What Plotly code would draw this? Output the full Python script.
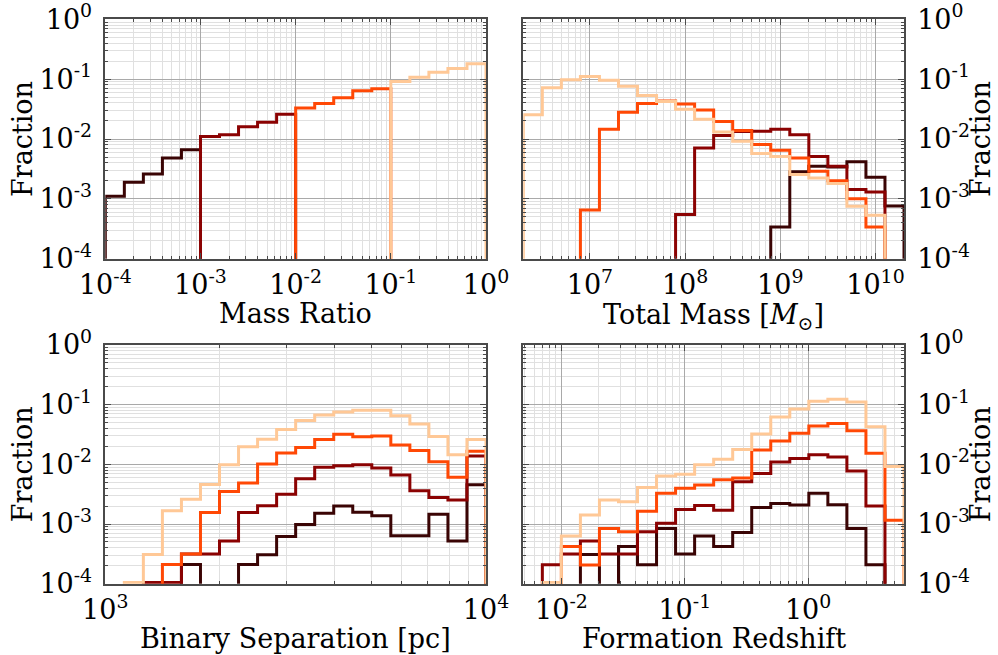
import numpy as np
import plotly.graph_objects as go

# ---------------- DATA ----------------
# Bin edges (log10) for each panel
q_edges = np.logspace(-4, 0, 21)                 # Mass ratio
m_edges = np.logspace(6.3, 10.3, 21)             # Total mass [Msun]
a_edges = np.logspace(3, 4, 21)                  # Binary separation [pc]
z_edges = np.logspace(np.log10(0.0049), np.log10(6.0), 21)  # Formation redshift

series_names = ["1e-4 < q < 1e-3", "1e-3 < q < 1e-2", "1e-2 < q < 1e-1", "1e-1 < q < 1"]

# Mass ratio histograms
q_s1 = [1.1e-3, 1.9e-3, 2.6e-3, 4.8e-3, 6.6e-3, 0, 0, 0, 0, 0, 0, 0, 0, 0, 0, 0, 0, 0, 0, 0]
q_s2 = [0, 0, 0, 0, 0, 0.011, 0.0118, 0.016, 0.019, 0.026, 0, 0, 0, 0, 0, 0, 0, 0, 0, 0]
q_s3 = [0, 0, 0, 0, 0, 0, 0, 0, 0, 0, 0.033, 0.039, 0.049, 0.064, 0.069, 0, 0, 0, 0, 0]
q_s4 = [0, 0, 0, 0, 0, 0, 0, 0, 0, 0, 0, 0, 0, 0, 0, 0.091, 0.108, 0.131, 0.151, 0.18]

# Total mass histograms
m_s1 = [0, 0, 0, 0, 0, 0, 0, 0, 0, 0, 0, 0, 0, 3.4e-4, 2.85e-3, 3.5e-3, 3.4e-3, 4.15e-3, 2.3e-3, 7.6e-4]
m_s2 = [0, 0, 0, 0, 0, 0, 0, 0, 5.5e-4, 7.1e-3, 0.0114, 0.0134, 0.0135, 0.0145, 0.0118, 0.0051, 0.0035, 1.43e-3, 1.3e-3, 0]
m_s3 = [0, 0, 0, 6.5e-4, 0.0146, 0.028, 0.0393, 0.043, 0.0385, 0.0305, 0.0197, 0.0139, 0.0081, 0.0065, 0.0048, 0.0029, 0.002, 1.0e-3, 3.4e-4, 0]
m_s4 = [0.0255, 0.072, 0.098, 0.111, 0.096, 0.076, 0.0535, 0.0425, 0.0315, 0.0213, 0.0131, 0.0092, 0.0057, 0.0051, 2.55e-3, 2.24e-3, 1.8e-3, 7.5e-4, 5.3e-4, 0]

# Binary separation histograms
a_s1 = [0, 0, 0, 0, 2.1e-4, 0, 0, 2.1e-4, 3.05e-4, 6.15e-4, 9.8e-4, 1.52e-3, 2.0e-3, 1.57e-3, 1.37e-3, 6.35e-4, 6.35e-4, 1.46e-3, 5.2e-4, 4.55e-3]
a_s2 = [0, 0, 1.05e-4, 1.05e-4, 3.15e-4, 3.15e-4, 5.2e-4, 1.56e-3, 2.02e-3, 3.15e-3, 5.75e-3, 8.9e-3, 9.5e-3, 9.85e-3, 8.7e-3, 6.6e-3, 3.6e-3, 2.77e-3, 2.52e-3, 0.0138]
a_s3 = [0, 0, 0, 2.1e-4, 3.15e-4, 1.56e-3, 3.5e-3, 4.85e-3, 0.0101, 0.0155, 0.0192, 0.026, 0.0318, 0.029, 0.030, 0.0211, 0.017, 0.0111, 6.1e-3, 0.0166]
a_s4 = [0, 1.05e-4, 3.1e-4, 1.67e-3, 2.6e-3, 4.6e-3, 9.8e-3, 0.0198, 0.0264, 0.0385, 0.0545, 0.067, 0.0755, 0.081, 0.081, 0.065, 0.0475, 0.0292, 0.0145, 0.026]

# Formation redshift histograms
z_s1 = [0, 0, 0, 3.1e-4, 0, 4.2e-4, 2.07e-4, 8.4e-4, 3.15e-4, 6.3e-4, 4.2e-4, 7.2e-4, 1.9e-3, 2.2e-3, 2.08e-3, 3.27e-3, 2.1e-3, 8.4e-4, 2.07e-4, 0]
z_s2 = [0, 2.07e-4, 3.15e-4, 5.2e-4, 3.15e-4, 3.15e-4, 7.4e-4, 1.03e-3, 1.75e-3, 2.05e-3, 1.7e-3, 5.1e-3, 7.0e-3, 0.011, 0.0125, 0.0145, 0.0133, 7.7e-3, 2.0e-3, 0]
z_s3 = [0, 0, 4.2e-4, 2.05e-4, 8.4e-4, 7.4e-4, 1.63e-3, 3.27e-3, 3.98e-3, 4.5e-3, 5.5e-3, 5.9e-3, 0.0174, 0.0247, 0.0331, 0.044, 0.0485, 0.0365, 0.0154, 1.16e-3]
z_s4 = [0, 1.05e-4, 6.3e-4, 1.42e-3, 2.53e-3, 2.37e-3, 4.1e-3, 6.4e-3, 6.8e-3, 9.8e-3, 0.0122, 0.0177, 0.0324, 0.062, 0.085, 0.114, 0.123, 0.111, 0.0428, 9.2e-3]

x_titles = ["Mass Ratio", "Total Mass [<i>M</i><sub>⊙</sub>]",
            "Binary Separation [pc]", "Formation Redshift"]
y_title = "Fraction"

# ---------------- STYLE ----------------
COLORS = ["#3a0404", "#8b0202", "#ff4805", "#ffc896"]
FONT = "DejaVu Serif, Liberation Serif, serif"
SPINE = "#4a4a4a"
MAJ = "#a9a9a9"
MIN = "#e0e0e0"
W, H = 998, 655
FLOOR = 1e-30  # empty bins drawn below the visible range

# panel pixel boxes: (left, right, top, bottom)
boxes = [(105.3, 486.0, 19.3, 258.7), (523.3, 904.0, 19.3, 258.7),
         (105.3, 486.0, 345.0, 583.7), (523.3, 904.0, 345.0, 583.7)]
title_offsets = [55, 58, 55, 55]


def dom_x(b):
    return [b[0] / W, b[1] / W]


def dom_y(b):
    return [1 - b[3] / H, 1 - b[2] / H]


def step_xy(edges, vals):
    v = [x if x > 0 else FLOOR for x in vals]
    xs = [edges[0]] + list(edges) + [edges[-1]]
    ys = [FLOOR] + v + [v[-1]] + [FLOOR]
    return xs, ys


def sup_label(p):
    return "10<sup>" + str(p) + "</sup>"


def log_ticks(lo, hi):
    majors = [10.0 ** p for p in range(lo, hi + 1)]
    texts = [sup_label(p) for p in range(lo, hi + 1)]
    minors = [m * 10.0 ** p for p in range(lo - 1, hi + 1) for m in range(2, 10)]
    return majors, texts, minors


panels = [
    (q_edges, [q_s1, q_s2, q_s3, q_s4], (-4, 0), [-4, 0]),
    (m_edges, [m_s1, m_s2, m_s3, m_s4], (6, 11), [6.3, 10.3]),
    (a_edges, [a_s1, a_s2, a_s3, a_s4], (3, 4), [3, 4]),
    (z_edges, [z_s1, z_s2, z_s3, z_s4], (-3, 1), [np.log10(z_edges[0]), np.log10(z_edges[-1])]),
]

fig = go.Figure()
layout = dict(width=W, height=H, margin=dict(l=0, r=0, t=0, b=0, autoexpand=False),
              paper_bgcolor="white", plot_bgcolor="white", showlegend=False,
              font=dict(family=FONT, color="black"))

annotations = []
for i, (edges, series, (plo, phi), xr) in enumerate(panels):
    n = i + 1
    xa = "x" if n == 1 else f"x{n}"
    ya = "y" if n == 1 else f"y{n}"
    for s, vals in enumerate(series):
        xs, ys = step_xy(edges, vals)
        fig.add_trace(go.Scatter(x=xs, y=ys, mode="lines", line_shape="hv",
                                 line=dict(color=COLORS[s], width=3),
                                 name=series_names[s], xaxis=xa, yaxis=ya,
                                 hoverinfo="skip"))
    b = boxes[i]
    xmaj, xtxt, xmin = log_ticks(plo, phi)
    ymaj, ytxt, ymin = log_ticks(-4, 0)
    common = dict(type="log", showline=True, linecolor=SPINE, linewidth=1.5,
                  mirror="allticks", ticks="inside", ticklen=6, tickwidth=1.2,
                  tickcolor=SPINE, showgrid=True, gridcolor=MAJ, gridwidth=1,
                  zeroline=False, automargin=False, ticklabeloverflow="allow",
                  tickfont=dict(family=FONT, size=27, color="black"))
    xkey = "xaxis" if n == 1 else f"xaxis{n}"
    ykey = "yaxis" if n == 1 else f"yaxis{n}"
    layout[xkey] = dict(common, domain=dom_x(b), anchor=ya, range=xr,
                        tickmode="array", tickvals=xmaj, ticktext=xtxt,
                        ticklabelstandoff=1,
                        minor=dict(tickmode="array", tickvals=xmin, ticks="inside",
                                   ticklen=3, tickcolor=SPINE, showgrid=True,
                                   gridcolor=MIN, gridwidth=1))
    layout[ykey] = dict(common, domain=dom_y(b), anchor=xa, range=[-4, 0],
                        side="left" if i % 2 == 0 else "right",
                        tickmode="array", tickvals=ymaj, ticktext=ytxt,
                        ticklabelstandoff=6,
                        minor=dict(tickmode="array", tickvals=ymin, ticks="inside",
                                   ticklen=3, tickcolor=SPINE, showgrid=True,
                                   gridcolor=MIN, gridwidth=1))
    # axis titles
    cx = (b[0] + b[1]) / 2
    annotations.append(dict(text=x_titles[i], xref="paper", yref="paper",
                            x=cx / W, y=1 - (b[3] + title_offsets[i]) / H, showarrow=False,
                            xanchor="center", yanchor="middle",
                            font=dict(family=FONT, size=27, color="black")))
    fx = 22 if i % 2 == 0 else 980
    annotations.append(dict(text=y_title, xref="paper", yref="paper",
                            x=fx / W, y=1 - ((b[2] + b[3]) / 2) / H, showarrow=False,
                            textangle=-90, xanchor="center", yanchor="middle",
                            font=dict(family=FONT, size=27, color="black")))

layout["annotations"] = annotations
fig.update_layout(**layout)
fig.write_html("out.html")
